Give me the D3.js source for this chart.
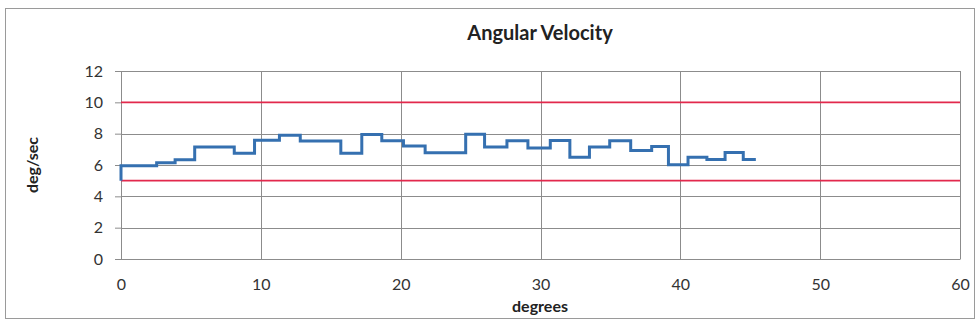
<!DOCTYPE html>
<html>
<head>
<meta charset="utf-8">
<script src="https://cdn.jsdelivr.net/npm/d3@7"></script>
<style>
  body { margin: 0; background: #fff; }
  text { font-family: Lato, "Open Sans", sans-serif; }
</style>
</head>
<body>
<svg id="chart"></svg>
<script>
// step breakpoints (degrees) and the velocity that holds from each one
const stepDegrees = [0, 0, 2.55, 3.87, 5.27, 8.1, 9.55, 11.33, 12.82, 15.72, 17.22, 18.65, 20.2, 21.75,
  24.65, 26.0, 27.6, 29.1, 30.7, 32.1, 33.5, 34.95, 36.45, 37.95, 39.15, 40.55, 41.9, 43.2, 44.5, 45.4];
const stepVelocity = [5.0, 5.95, 6.15, 6.33, 7.15, 6.75, 7.58, 7.9, 7.53, 6.75, 7.95, 7.55, 7.22, 6.78,
  7.97, 7.15, 7.55, 7.08, 7.57, 6.5, 7.15, 7.55, 6.93, 7.18, 6.02, 6.5, 6.35, 6.8, 6.35, 6.35];
const limitValues = [10, 5];
const xTicks = [0, 10, 20, 30, 40, 50, 60];
const yTicks = [0, 2, 4, 6, 8, 10, 12];

const W = 980, H = 330;
const margin = { top: 71, right: 20, bottom: 71, left: 121 };
const width = W - margin.left - margin.right;
const height = H - margin.top - margin.bottom;

const svg = d3.select("#chart")
  .attr("width", W)
  .attr("height", H);

// outer chart frame
svg.append("rect")
  .attr("x", 5.5).attr("y", 8.5)
  .attr("width", 969).attr("height", 310)
  .attr("fill", "none")
  .attr("stroke", "#9a9a9a");

const xScale = d3.scaleLinear().domain([0, 60]).range([0, width]);
const yScale = d3.scaleLinear().domain([0, 12]).range([height, 0]);

const g = svg.append("g")
  .attr("transform", `translate(${margin.left}, ${margin.top})`);

// gridlines
g.append("g")
  .selectAll("line.h")
  .data(yTicks)
  .join("line")
  .attr("x1", 0).attr("x2", width)
  .attr("y1", d => Math.round(yScale(d)) + 0.5)
  .attr("y2", d => Math.round(yScale(d)) + 0.5)
  .attr("stroke", "#8c8c8c");

g.append("g")
  .selectAll("line.v")
  .data(xTicks)
  .join("line")
  .attr("y1", 0).attr("y2", height)
  .attr("x1", d => Math.round(xScale(d)) + 0.5)
  .attr("x2", d => Math.round(xScale(d)) + 0.5)
  .attr("stroke", "#8c8c8c");

// axes
const yAxis = d3.axisLeft(yScale)
  .tickValues(yTicks)
  .tickSize(6)
  .tickPadding(12);

const xAxis = d3.axisBottom(xScale)
  .tickValues(xTicks)
  .tickSize(0)
  .tickPadding(20);

g.append("g").call(yAxis)
  .call(a => a.select(".domain").attr("stroke", "#8c8c8c"))
  .call(a => a.selectAll(".tick line").attr("stroke", "#8c8c8c"))
  .call(a => a.selectAll("text").attr("font-size", 16).attr("fill", "#333"));

g.append("g")
  .attr("transform", `translate(0, ${height})`)
  .call(xAxis)
  .call(a => a.select(".domain").attr("stroke", "#8c8c8c"))
  .call(a => a.selectAll("text").attr("font-size", 16).attr("fill", "#333"));

// limit lines
g.selectAll(".limit")
  .data(limitValues)
  .join("line")
  .attr("class", "limit")
  .attr("x1", xScale(0)).attr("x2", xScale(60))
  .attr("y1", d => yScale(d)).attr("y2", d => yScale(d))
  .attr("stroke", "#e2294c")
  .attr("stroke-width", 1.8);

// velocity step line
const points = stepDegrees.map((d, i) => [d, stepVelocity[i]]);
const line = d3.line()
  .x(d => xScale(d[0]))
  .y(d => yScale(d[1]))
  .curve(d3.curveStepAfter);

g.append("path")
  .datum(points)
  .attr("fill", "none")
  .attr("stroke", "#3570b0")
  .attr("stroke-width", 3)
  .attr("d", line);

// titles
svg.append("text")
  .attr("x", 540).attr("y", 40)
  .attr("text-anchor", "middle")
  .attr("font-size", 20)
  .attr("font-weight", "bold")
  .attr("fill", "#222")
  .text("Angular Velocity");

svg.append("text")
  .attr("x", 540).attr("y", 312)
  .attr("text-anchor", "middle")
  .attr("font-size", 16)
  .attr("font-weight", "bold")
  .attr("fill", "#222")
  .text("degrees");

svg.append("text")
  .attr("transform", "translate(38, 165) rotate(-90)")
  .attr("text-anchor", "middle")
  .attr("font-size", 16)
  .attr("font-weight", "bold")
  .attr("fill", "#222")
  .text("deg/sec");
</script>
</body>
</html>
